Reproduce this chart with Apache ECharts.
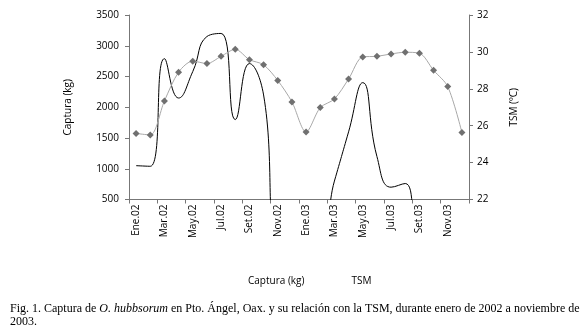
<!DOCTYPE html>
<html><head><meta charset="utf-8">
<script src="https://cdn.jsdelivr.net/npm/echarts@6/dist/echarts.min.js"></script>
<style>html,body{margin:0;padding:0;background:#fff}#c{width:583px;height:327px}</style>
</head><body><div id="c"></div>
<script>
const categories = ['Ene.02','Feb.02','Mar.02','Abr.02','May.02','Jun.02','Jul.02','Ago.02','Set.02','Oct.02','Nov.02','Dic.02',
                    'Ene.03','Feb.03','Mar.03','Abr.03','May.03','Jun.03','Jul.03','Ago.03','Set.03','Oct.03','Nov.03','Dic.03'];
const captura = [1050,1040,2790,2150,2580,3150,3200,1800,2710,2200,0,0,0,0,800,1600,2400,1200,700,760,0,0,0,0];
const tsm = [25.58,25.5,27.34,28.9,29.5,29.37,29.76,30.14,29.58,29.3,28.45,27.29,25.66,26.98,27.45,28.53,29.73,29.76,29.89,29.98,29.93,29.0,28.12,25.63];
const leftTicks = {min:500, max:3500, interval:500};
const rightTicks = {min:22, max:32, interval:2};

const F = 'Open Sans';
const chart = echarts.init(document.getElementById('c'), null, {renderer:'canvas'});
chart.setOption({
  animation:false,
  textStyle:{fontFamily:F},
  grid:{left:129, right:114, top:15, bottom:127.5, containLabel:false},
  title:{
    left:5, top:297,
    text:'Fig. 1. Captura de {i|O. hubbsorum} en Pto. Ángel, Oax. y su relación con la TSM, durante enero de 2002 a noviembre de\n2003.',
    textStyle:{fontFamily:'Liberation Serif', fontSize:12, fontWeight:'normal', color:'#000', lineHeight:13.5,
      rich:{i:{fontFamily:'Liberation Serif', fontSize:12, fontStyle:'italic', color:'#000', lineHeight:13.5}}}
  },
  legend:{
    data:['Captura (kg)','TSM'], icon:'none', itemWidth:0, itemGap:42,
    left:238, top:269, textStyle:{fontFamily:F, fontSize:10, color:'#000'}
  },
  xAxis:{
    type:'category', data:categories, boundaryGap:true,
    axisLine:{lineStyle:{color:'#777', width:1}},
    axisTick:{show:true, length:4, lineStyle:{color:'#777'}},
    axisLabel:{interval:1, rotate:90, margin:5, fontSize:10, color:'#000', fontFamily:F},
    splitLine:{show:false}
  },
  yAxis:[
    {type:'value', min:leftTicks.min, max:leftTicks.max, interval:leftTicks.interval, position:'left',
     name:'Captura (kg)', nameLocation:'middle', nameGap:56, nameRotate:90,
     nameTextStyle:{fontFamily:F, fontSize:10, color:'#000'},
     axisLine:{show:true, lineStyle:{color:'#777'}}, axisTick:{show:true, length:4, lineStyle:{color:'#777'}},
     axisLabel:{fontSize:10, color:'#000', margin:10, fontFamily:F, formatter:v => String(v)}, splitLine:{show:false}},
    {type:'value', min:rightTicks.min, max:rightTicks.max, interval:rightTicks.interval, position:'right',
     name:'TSM (ºC)', nameLocation:'middle', nameGap:40, nameRotate:90,
     nameTextStyle:{fontFamily:F, fontSize:10, color:'#000'},
     axisLine:{show:true, lineStyle:{color:'#777'}}, axisTick:{show:true, length:4, lineStyle:{color:'#777'}},
     axisLabel:{fontSize:10, color:'#000', margin:8, fontFamily:F, formatter:v => String(v)}, splitLine:{show:false}}
  ],
  series:[
    {name:'Captura (kg)', type:'line', yAxisIndex:0, data:captura, smooth:0.5, showSymbol:false, symbol:'none',
     clip:true, lineStyle:{color:'#000', width:1}, itemStyle:{color:'#000'}},
    {name:'TSM', type:'line', yAxisIndex:1, data:tsm, smooth:0.3, symbol:'diamond', symbolSize:7,
     lineStyle:{color:'#a8a8a8', width:1}, itemStyle:{color:'#707070'}}
  ]
});
</script></body></html>
